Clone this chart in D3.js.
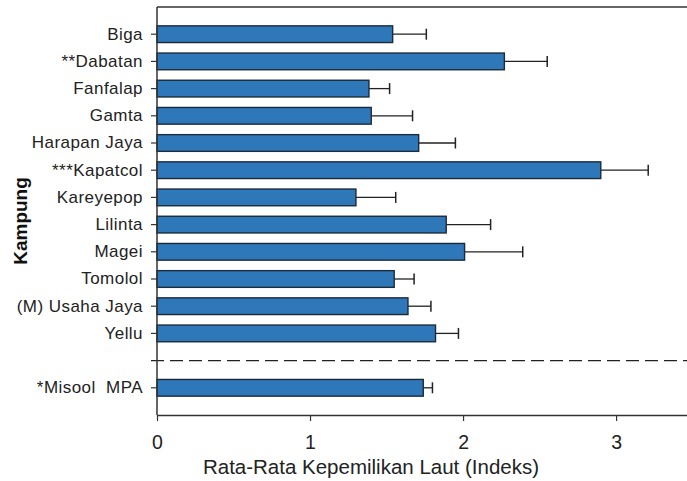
<!DOCTYPE html>
<html>
<head>
<meta charset="utf-8">
<script src="https://cdn.jsdelivr.net/npm/d3@7"></script>
<style>
  html, body { margin: 0; padding: 0; background: #fff; }
  svg { display: block; font-family: "Liberation Sans", Arial, sans-serif; }
  svg text { white-space: pre; }
</style>
</head>
<body>
<svg id="chart" width="687" height="481"></svg>
<script>
const categories = ["Biga", "**Dabatan", "Fanfalap", "Gamta", "Harapan Jaya", "***Kapatcol", "Kareyepop", "Lilinta", "Magei", "Tomolol", "(M) Usaha Jaya", "Yellu", "__gap__", "*Misool  MPA"];
const means = [1.54, 2.27, 1.385, 1.40, 1.71, 2.90, 1.30, 1.89, 2.01, 1.55, 1.64, 1.82, null, 1.74];
const upper = [1.76, 2.55, 1.52, 1.67, 1.95, 3.21, 1.56, 2.18, 2.39, 1.68, 1.79, 1.97, null, 1.80];
const xTicks = [0, 1, 2, 3];
const xTitle = "Rata-Rata Kepemilikan Laut (Indeks)";
const yTitle = "Kampung";

const svg = d3.select("#chart");
const pLeft = 157, pRight = 688, pTop = 7, pBottom = 415;

const x = d3.scaleLinear().domain([0, 3.47]).range([pLeft, pRight]);
const y = d3.scaleBand().domain(categories).range([pTop, pBottom])
  .paddingInner(0.386).paddingOuter(0.693);

const data = categories.map((c, i) => ({ c, m: means[i], u: upper[i] })).filter(d => d.m !== null);

// top border
svg.append("line").attr("x1", pLeft).attr("x2", pRight).attr("y1", pTop).attr("y2", pTop)
  .attr("stroke", "#333").attr("stroke-width", 1.5);

// dashed separator
const gy = y("__gap__") + y.bandwidth() / 2;
svg.append("line").attr("x1", 151).attr("x2", pRight).attr("y1", gy).attr("y2", gy)
  .attr("stroke", "#222").attr("stroke-width", 1.4).attr("stroke-dasharray", "13,6");

// error bars
const eg = svg.append("g");
data.forEach(d => {
  const cy = y(d.c) + y.bandwidth() / 2;
  eg.append("line").attr("x1", x(d.m)).attr("x2", x(d.u)).attr("y1", cy).attr("y2", cy)
    .attr("stroke", "#222").attr("stroke-width", 1.3);
  eg.append("line").attr("x1", x(d.u)).attr("x2", x(d.u)).attr("y1", cy - 5.5).attr("y2", cy + 5.5)
    .attr("stroke", "#222").attr("stroke-width", 1.5);
});

// bars
svg.append("g").selectAll("rect").data(data).join("rect")
  .attr("x", x(0))
  .attr("y", d => y(d.c))
  .attr("width", d => x(d.m) - x(0))
  .attr("height", y.bandwidth())
  .attr("fill", "#2E78BA")
  .attr("stroke", "#1C2B3A")
  .attr("stroke-width", 1.4);

// y axis
const yAxis = d3.axisLeft(y).tickValues(categories.filter(c => c !== "__gap__"))
  .tickSize(6).tickPadding(8).tickSizeOuter(0);
const ya = svg.append("g").attr("transform", `translate(${pLeft},0)`).call(yAxis);
ya.select(".domain").attr("stroke", "#333").attr("stroke-width", 1.5)
  .attr("d", `M0,${pTop}V${pBottom}`);
ya.selectAll(".tick line").attr("stroke", "#333").attr("stroke-width", 1.2);
ya.selectAll(".tick text").attr("font-size", 17).attr("fill", "#222")
  .attr("letter-spacing", "0.45px")
  .attr("font-family", "'Liberation Sans', Arial, sans-serif");

// x axis
const xAxis = d3.axisBottom(x).tickValues(xTicks).tickFormat(d3.format("d"))
  .tickSize(6).tickPadding(14).tickSizeOuter(0);
const xa = svg.append("g").attr("transform", `translate(0,${pBottom})`).call(xAxis);
xa.select(".domain").attr("stroke", "#333").attr("stroke-width", 1.5);
xa.selectAll(".tick line").attr("stroke", "#333").attr("stroke-width", 1.2);
xa.selectAll(".tick text").attr("font-size", 19.5).attr("fill", "#222")
  .attr("font-family", "'Liberation Sans', Arial, sans-serif");

// titles
svg.append("text").attr("x", 371).attr("y", 474).attr("text-anchor", "middle")
  .attr("font-size", 20.5).attr("fill", "#222").text(xTitle);
svg.append("text").attr("transform", "translate(27,221) rotate(-90)")
  .attr("text-anchor", "middle").attr("font-size", 19).attr("font-weight", "bold")
  .attr("fill", "#111").text(yTitle);
</script>
</body>
</html>
